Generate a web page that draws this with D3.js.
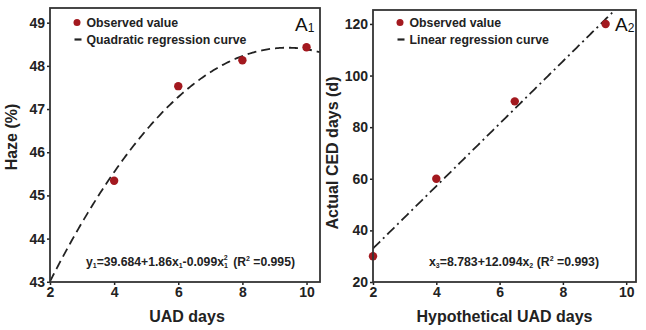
<!DOCTYPE html>
<html><head><meta charset="utf-8">
<script src="https://cdn.jsdelivr.net/npm/d3@7"></script>
<style>body{margin:0;background:#fff}svg{display:block;font-family:"Liberation Sans",Arial,sans-serif;font-weight:bold}</style>
</head><body><svg id="c" width="646" height="330"></svg>
<script>
// Panel A1 data
const a1Days = [4, 6, 8, 10];
const a1Haze = [45.34, 47.53, 48.13, 48.43];
const a1Coef = [39.684, 1.86, -0.099];
const a1XTicks = [2, 4, 6, 8, 10];
const a1YTicks = [43, 44, 45, 46, 47, 48, 49];
// Panel A2 data
const a2Days = [2, 4, 6.48, 9.35];
const a2CED = [30, 60, 90, 120];
const a2Coef = [8.783, 12.094];
const a2XTicks = [2, 4, 6, 8, 10];
const a2YTicks = [20, 40, 60, 80, 100, 120];

const svg = d3.select("#c");
const red = "#a3191f";
const dark = "#222";

function panel(o) {
  const g = svg.append("g");
  const x = d3.scaleLinear().domain(o.xd).range([o.l, o.r]);
  const y = d3.scaleLinear().domain(o.yd).range([o.b, o.t]);
  const clipId = "clip" + o.id;
  svg.append("clipPath").attr("id", clipId).append("rect")
    .attr("x", o.l).attr("y", o.t).attr("width", o.r - o.l).attr("height", o.b - o.t);
  const xa = g.append("g").attr("transform", `translate(0,${o.b})`)
    .call(d3.axisBottom(x).tickValues(o.xt).tickSize(3).tickPadding(2).tickFormat(d3.format("d")));
  const ya = g.append("g").attr("transform", `translate(${o.l},0)`)
    .call(d3.axisLeft(y).tickValues(o.yt).tickSize(3).tickPadding(2).tickFormat(d3.format("d")));
  [xa, ya].forEach(a => {
    a.select(".domain").remove();
    a.selectAll("line").attr("stroke", dark).attr("stroke-width", 1.5);
    a.selectAll("text").attr("font-size", 14).attr("font-weight", "bold").attr("fill", dark)
      .attr("font-family", "Liberation Sans, Arial, sans-serif");
  });
  // curve
  const xs = d3.range(0, 201).map(i => o.xd[0] + (o.xd[1] - o.xd[0]) * i / 200);
  const line = d3.line().x(d => x(d[0])).y(d => y(d[1]));
  g.append("path").attr("clip-path", `url(#${clipId})`)
    .attr("d", line(xs.map(v => [v, o.f(v)])))
    .attr("fill", "none").attr("stroke", dark).attr("stroke-width", 1.8)
    .attr("stroke-dasharray", o.dash);
  // points
  g.selectAll("circle.p").data(o.px.map((v, i) => [v, o.py[i]])).join("circle")
    .attr("cx", d => x(d[0])).attr("cy", d => y(d[1])).attr("r", 4.2).attr("fill", red);
  // frame
  g.append("rect").attr("x", o.l).attr("y", o.t).attr("width", o.r - o.l).attr("height", o.b - o.t)
    .attr("fill", "none").attr("stroke", "#333").attr("stroke-width", 1.8);
  // legend
  g.append("circle").attr("cx", o.l + 27).attr("cy", 22.5).attr("r", 3.5).attr("fill", red);
  g.append("text").attr("x", o.l + 36.5).attr("y", 26.8).attr("font-size", 12.3).attr("fill", dark).text("Observed value");
  g.append("line").attr("x1", o.l + 24.5).attr("x2", o.l + 31.5).attr("y1", 39.5).attr("y2", 39.5)
    .attr("stroke", dark).attr("stroke-width", 2.2);
  g.append("text").attr("x", o.l + 36.5).attr("y", 43.5).attr("font-size", 12.3).attr("fill", dark).text(o.legend);
  // panel label
  const lab = g.append("text").attr("x", o.labX).attr("y", 31).attr("font-size", 19).attr("font-weight", "normal").attr("fill", "#111");
  lab.append("tspan").text("A");
  lab.append("tspan").attr("font-size", 12).attr("dy", 1).text(o.sub);
  // axis titles
  g.append("text").attr("x", (o.l + o.r) / 2 - o.xtOff).attr("y", 322).attr("text-anchor", "middle")
    .attr("font-size", 16).attr("fill", dark).text(o.xTitle);
  g.append("text").attr("transform", `translate(${o.ytX},${o.ytY}) rotate(-90)`).attr("text-anchor", "middle")
    .attr("font-size", 16).attr("fill", dark).text(o.yTitle);
  return g;
}

const g1 = panel({
  id: 1, l: 50, r: 320, t: 8, b: 282, xd: [2, 10.42], yd: [42.995, 49.34],
  xt: a1XTicks, yt: a1YTicks, px: a1Days, py: a1Haze,
  f: v => a1Coef[0] + a1Coef[1] * v + a1Coef[2] * v * v, dash: "9,5",
  legend: "Quadratic regression curve", labX: 295, sub: "1",
  xTitle: "UAD days", xtOff: -2, yTitle: "Haze (%)", ytX: 17, ytY: 137
});
const eq1 = g1.append("text").attr("x", 86).attr("y", 266).attr("font-size", 12.2).attr("fill", dark);
eq1.append("tspan").text("y");
eq1.append("tspan").attr("font-size", 7).attr("dy", 2).text("1");
eq1.append("tspan").attr("dy", -2).text("=39.684+1.86x");
eq1.append("tspan").attr("font-size", 7).attr("dy", 2).text("1");
eq1.append("tspan").attr("dy", -2).text("-0.099x");
eq1.append("tspan").attr("font-size", 7).attr("dy", 2).text("1");
eq1.append("tspan").attr("font-size", 7).attr("dx", -4).attr("dy", -8).text("2");
eq1.append("tspan").attr("dy", 6).attr("dx", 2).text("  (R");
eq1.append("tspan").attr("font-size", 7).attr("dy", -5).text("2");
eq1.append("tspan").attr("dy", 5).text(" =0.995)");

const g2 = panel({
  id: 2, l: 373, r: 636, t: 10, b: 282, xd: [2, 10.31], yd: [20, 125.4],
  xt: a2XTicks, yt: a2YTicks, px: a2Days, py: a2CED,
  f: v => a2Coef[0] + a2Coef[1] * v, dash: "10,4,2,4",
  legend: "Linear regression curve", labX: 615, sub: "2",
  xTitle: "Hypothetical UAD days", xtOff: 0, yTitle: "Actual CED days (d)", ytX: 338, ytY: 153
});
const eq2 = g2.append("text").attr("x", 429).attr("y", 266).attr("font-size", 12.3).attr("fill", dark);
eq2.append("tspan").text("x");
eq2.append("tspan").attr("font-size", 7).attr("dy", 2).text("3");
eq2.append("tspan").attr("dy", -2).text("=8.783+12.094x");
eq2.append("tspan").attr("font-size", 7).attr("dy", 2).text("2");
eq2.append("tspan").attr("dy", -2).text(" (R");
eq2.append("tspan").attr("font-size", 7).attr("dy", -5).text("2");
eq2.append("tspan").attr("dy", 5).text(" =0.993)");
</script></body></html>
